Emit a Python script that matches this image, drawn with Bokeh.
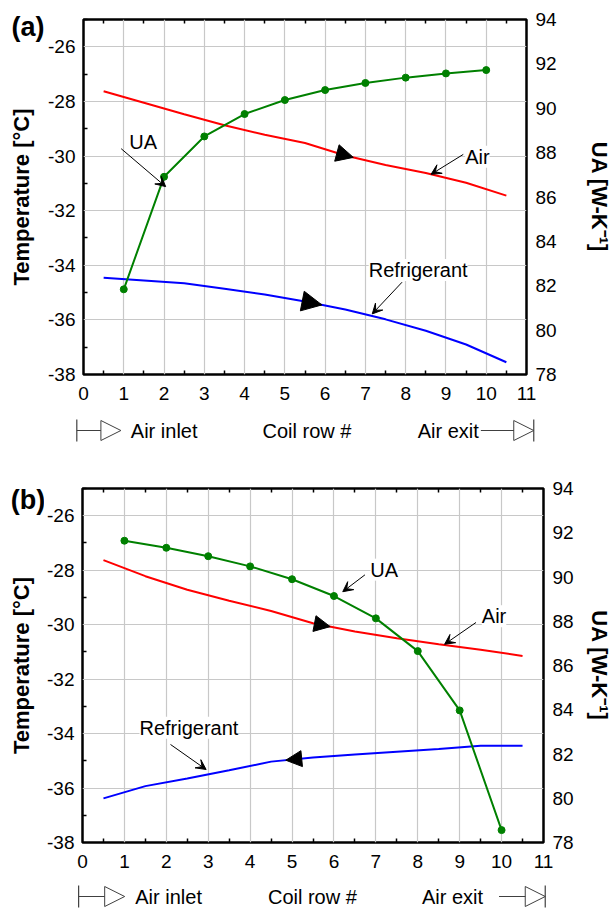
import numpy as np
from bokeh.plotting import figure
from bokeh.models import (Range1d, LinearAxis, FixedTicker, Label, Arrow,
                          NormalHead, VeeHead, TeeHead)
from bokeh.layouts import column, row
from bokeh.embed import file_html
from bokeh.resources import INLINE

# ---------------- data ----------------
rows = [1, 2, 3, 4, 5, 6, 7, 8, 9, 10]
bounds = [0.5, 1.5, 2.5, 3.5, 4.5, 5.5, 6.5, 7.5, 8.5, 9.5, 10.5]

x_ticks = [0, 1, 2, 3, 4, 5, 6, 7, 8, 9, 10, 11]
x_minor = [0.5, 1.5, 2.5, 3.5, 4.5, 5.5, 6.5, 7.5, 8.5, 9.5, 10.5]
t_ticks = [-38, -36, -34, -32, -30, -28, -26]
t_minor = [-37, -35, -33, -31, -29, -27, -25]
ua_ticks = [78, 80, 82, 84, 86, 88, 90, 92, 94]

# panel (a)
a_ua = [81.84, 86.91, 88.73, 89.74, 90.37, 90.82, 91.14, 91.38, 91.57, 91.72]
a_air = [-27.63, -28.05, -28.47, -28.87, -29.22, -29.52, -29.98, -30.33, -30.62, -30.98, -31.45]
a_ref = [-34.46, -34.56, -34.66, -34.86, -35.07, -35.33, -35.62, -35.98, -36.40, -36.90, -37.55]

# panel (b)
b_ua = [91.64, 91.32, 90.94, 90.48, 89.90, 89.14, 88.13, 86.65, 83.97, 78.56]
b_air = [-27.63, -28.22, -28.72, -29.12, -29.50, -29.95, -30.25, -30.50, -30.72, -30.92, -31.15]
b_ref = [-36.38, -35.93, -35.65, -35.35, -35.03, -34.88, -34.77, -34.67, -34.57, -34.45, -34.45]

FONT = "Liberation Sans"
STRIP_W = 44
SYM = "#404040"


def no_align(p):
    if "frame_align" in p.properties():
        p.frame_align = False
    return p


def style_axis(ax, labels=True):
    ax.axis_line_color = None
    ax.major_tick_in = 0
    ax.major_tick_out = 0
    ax.minor_tick_in = 4
    ax.minor_tick_out = 0
    ax.minor_tick_line_color = "black"
    ax.minor_tick_line_width = 1.5
    ax.major_label_text_font = FONT
    ax.major_label_text_font_size = "19px"
    ax.major_label_text_color = "black" if labels else None
    ax.axis_label_text_font = FONT
    ax.axis_label_text_font_size = "22px"
    ax.axis_label_text_font_style = "bold"
    ax.axis_label_text_color = "black"


def blank(width, height, x_range, y_range):
    p = figure(width=width, height=height, output_backend="svg", toolbar_location=None,
               x_range=x_range, y_range=y_range, x_axis_type=None, y_axis_type=None,
               min_border=0)
    p.outline_line_color = None
    p.background_fill_color = "white"
    p.border_fill_color = "white"
    p.grid.visible = False
    return no_align(p)


def main_panel(height, borders, ua, air, ref, flow_arrows, notes, ra_standoff):
    bl, br, bt, bb = borders
    p = figure(width=614 - STRIP_W, height=height, output_backend="svg",
               toolbar_location=None, x_range=Range1d(0, 11), y_range=Range1d(-38, -25),
               min_border_left=bl, min_border_right=br, min_border_top=bt,
               min_border_bottom=bb)
    no_align(p)
    p.extra_y_ranges = {"ua": Range1d(78, 94)}
    p.background_fill_color = "white"
    p.border_fill_color = "white"
    p.outline_line_color = "black"
    p.outline_line_width = 2.5

    xt = FixedTicker(ticks=x_ticks, minor_ticks=x_minor)
    yt = FixedTicker(ticks=t_ticks, minor_ticks=t_minor)
    xax = p.xaxis[0]
    yax = p.yaxis[0]
    xax.ticker = xt
    yax.ticker = yt
    p.xgrid[0].ticker = xt
    p.ygrid[0].ticker = yt
    p.xgrid.grid_line_color = "#c8c8c8"
    p.ygrid.grid_line_color = "#c8c8c8"
    p.xgrid.grid_line_width = 1.2
    p.ygrid.grid_line_width = 1.2

    style_axis(xax)
    style_axis(yax)
    xax.major_label_standoff = 12
    yax.major_label_standoff = 8
    yax.major_label_overrides = {t: str(t) for t in t_ticks}

    ra = LinearAxis(y_range_name="ua", ticker=FixedTicker(ticks=ua_ticks, minor_ticks=[]),
                    axis_label="UA [W-K\u207b\u00b9]")
    style_axis(ra)
    ra.major_tick_line_color = None
    ra.minor_tick_line_color = None
    ra.major_label_standoff = 9
    ra.axis_label_standoff = ra_standoff
    ra.major_label_overrides = {t: str(t) for t in ua_ticks}
    p.add_layout(ra, "right")

    ta = LinearAxis(ticker=FixedTicker(ticks=x_ticks, minor_ticks=x_minor))
    style_axis(ta, labels=False)
    ta.major_label_text_font_size = "1px"
    p.add_layout(ta, "above")

    # series
    p.line(bounds, air, line_color="#ff0000", line_width=2)
    p.line(bounds, ref, line_color="#0000ff", line_width=2)
    p.line(rows, ua, line_color="#008000", line_width=2, y_range_name="ua")
    p.scatter(rows, ua, size=7, fill_color="#008000", line_color="#008000",
              y_range_name="ua")

    # flow-direction arrowheads on the temperature lines
    for series, xs, xe, size in flow_arrows:
        ys = float(np.interp(xs, bounds, series))
        ye = float(np.interp(xe, bounds, series))
        p.add_layout(Arrow(x_start=xs, y_start=ys, x_end=xe, y_end=ye,
                           line_color=None,
                           end=NormalHead(size=size, fill_color="black",
                                          line_color="black", line_width=1)))

    # callouts
    for text, lx, ly, ax0, ay0, ax1, ay1 in notes:
        p.add_layout(Arrow(x_start=ax0, y_start=ay0, x_end=ax1, y_end=ay1,
                           line_color="black", line_width=1,
                           end=VeeHead(size=10, fill_color="black",
                                       line_color="black", line_width=1)))
        p.add_layout(Label(x=lx, y=ly, text=text, text_font=FONT,
                           text_font_size="20px", text_align="center",
                           text_baseline="middle", text_color="black",
                           background_fill_color="white"))
    return p


def left_strip(height, tag, tag_xy, temp_xy):
    s = blank(STRIP_W, height, Range1d(0, STRIP_W), Range1d(0, height))
    s.add_layout(Label(x=tag_xy[0], y=tag_xy[1], text=tag, text_font=FONT,
                       text_font_size="27px", text_font_style="bold",
                       text_color="black", text_align="center",
                       text_baseline="middle"))
    s.add_layout(Label(x=temp_xy[0], y=temp_xy[1], text="Temperature [°C]",
                       text_font=FONT, text_font_size="22px", text_font_style="bold",
                       text_color="black", angle=np.pi / 2, text_align="center",
                       text_baseline="middle"))
    return s


def flow_strip(height, xr, yrow, l_bar, l_tip, inlet_x, mid_x, exit_x, r_start, r_tip):
    s = blank(614 - STRIP_W, height, Range1d(*xr), Range1d(0, height))
    s.add_layout(Arrow(x_start=l_bar, y_start=yrow, x_end=l_tip, y_end=yrow,
                       line_color=SYM, line_width=1.2,
                       start=TeeHead(size=22, line_color=SYM, line_width=1.2),
                       end=NormalHead(size=20, fill_color="white",
                                      line_color=SYM, line_width=1)))
    s.add_layout(Arrow(x_start=r_tip, y_start=yrow, x_end=r_start, y_end=yrow,
                       line_color=SYM, line_width=1.2,
                       start=TeeHead(size=22, line_color=SYM, line_width=1.2),
                       end=None))
    s.add_layout(Arrow(x_start=r_start, y_start=yrow, x_end=r_tip, y_end=yrow,
                       line_color=SYM, line_width=1.2,
                       end=NormalHead(size=20, fill_color="white",
                                      line_color=SYM, line_width=1)))
    for text, x, align in (("Air inlet", inlet_x, "left"),
                           ("Coil row #", mid_x, "center"),
                           ("Air exit", exit_x, "right")):
        s.add_layout(Label(x=x, y=yrow, text=text, text_font=FONT,
                           text_font_size="20px", text_align=align,
                           text_color="black", text_baseline="middle"))
    return s


# ---------------- panel (a) ----------------
pa = main_panel(
    412, (39, 84, 19, 38), a_ua, a_air, a_ref,
    [(a_air, 6.35, 6.70, 17), (a_ref, 5.55, 5.92, 20)],
    [("UA", 1.48, -29.48, 0.935, -29.73, 2.04, -31.12),
     ("Air", 9.78, -30.03, 9.43, -29.94, 8.63, -30.67),
     ("Refrigerant", 8.31, -34.17, 7.91, -34.62, 7.17, -35.78)],
    27)
sa = flow_strip(43, (-0.960, 13.067), 25, -0.165, 0.92, 1.164, 5.5, 9.727, 9.78, 11.08)
la = left_strip(455, "(a)", (27.5, 429), (21, 258.5))

# ---------------- panel (b) ----------------
pb = main_panel(
    425, (38, 68, 33, 38), b_ua, b_air, b_ref,
    [(b_air, 5.55, 5.91, 16), (b_ref, 5.20, 4.85, 16)],
    [("UA", 7.2, -27.98, 6.74, -28.17, 6.21, -28.79),
     ("Air", 9.82, -29.69, 9.39, -29.92, 8.64, -30.72),
     ("Refrigerant", 2.54, -33.79, 2.1, -34.4, 2.95, -35.32)],
    10)
sb = flow_strip(31, (-0.901, 12.612), 15, -0.092, 1.0, 1.251, 5.45, 9.497, 9.877, 10.97)
lb = left_strip(456, "(b)", (27.5, 412), (20.5, 246))

layout = column(row(la, column(pa, sa)), row(lb, column(pb, sb)))
open("out.html", "w").write(file_html(layout, INLINE))
